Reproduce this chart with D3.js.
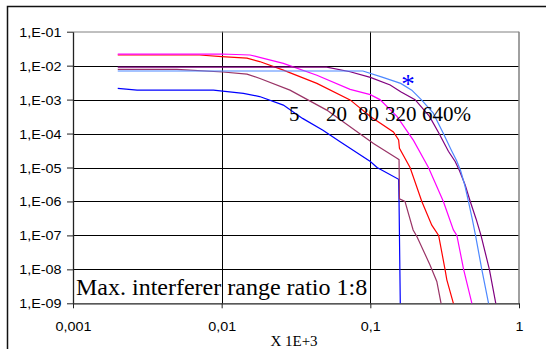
<!DOCTYPE html>
<html>
<head>
<meta charset="utf-8">
<script src="https://cdn.jsdelivr.net/npm/d3@7"></script>
<style>
body{margin:0;background:#fff;}
svg{display:block;}
</style>
</head>
<body>
<svg width="546" height="349"></svg>
<script>
// axis ticks
const yTicks = [1e-9, 1e-8, 1e-7, 1e-6, 1e-5, 1e-4, 1e-3, 1e-2, 1e-1];
const yTickLabels = ['1,E-09','1,E-08','1,E-07','1,E-06','1,E-05','1,E-04','1,E-03','1,E-02','1,E-01'];
const xTicks = [0.001, 0.01, 0.1, 1];
const xTickLabels = ['0,001','0,01','0,1','1'];

// series, [x, y]
const s5 = [[0.002,2.15e-3],[0.0027,1.9e-3],[0.0088,1.9e-3],[0.014,1.53e-3],[0.018,1.23e-3],[0.026,6.9e-4],
  [0.035,2.8e-4],[0.048,1.26e-4],[0.063,5.6e-5],[0.1,1.5e-5],[0.111,1.0e-5],[0.155,4.5e-6],[0.156,1e-6],[0.159,1e-9]];
const s20 = [[0.002,7.8e-3],[0.005,7.8e-3],[0.0102,6.5e-3],[0.0148,5.6e-3],[0.0181,4.2e-3],[0.0288,1.9e-3],
  [0.0509,4.9e-4],[0.105,5.1e-5],[0.151,1.86e-5],[0.156,1.7e-5],[0.157,1.2e-6],[0.171,1.0e-6],[0.194,1.45e-7],
  [0.206,9.1e-8],[0.252,1.35e-8],[0.28,4.4e-9],[0.299,1e-9]];
const s80 = [[0.002,2.06e-2],[0.0071,2.06e-2],[0.01,1.84e-2],[0.0148,1.66e-2],[0.018,1.32e-2],[0.026,7.4e-3],
  [0.0437,3.0e-3],[0.0731,9.8e-4],[0.1,3.2e-4],[0.143,1.12e-4],[0.155,6.5e-5],[0.157,3.7e-5],[0.185,1.0e-5],
  [0.222,1.0e-6],[0.259,2.0e-7],[0.288,1.0e-7],[0.318,1.0e-8],[0.327,4.9e-9],[0.362,1e-9]];
const s320 = [[0.002,2.2e-2],[0.01,2.2e-2],[0.0155,2.06e-2],[0.018,1.76e-2],[0.026,1.17e-2],[0.0437,5.2e-3],
  [0.0731,2.0e-3],[0.1,1.4e-3],[0.116,1.0e-3],[0.151,3.2e-4],[0.195,6.3e-5],[0.246,1.0e-5],[0.31,1.0e-6],
  [0.362,1.45e-7],[0.382,1.0e-7],[0.424,1.0e-8],[0.482,1e-9]];
const s640 = [[0.002,9.1e-3],[0.0509,9.1e-3],[0.0731,6.6e-3],[0.1,4.5e-3],[0.136,2.7e-3],[0.16,1.7e-3],
  [0.2,1.0e-3],[0.25,3.2e-4],[0.29,1.0e-4],[0.335,3.0e-5],[0.372,1.5e-5],[0.398,8.0e-6],[0.435,3.0e-6],
  [0.47,1.0e-6],[0.515,3.0e-7],[0.555,1.0e-7],[0.632,1.0e-8],[0.698,1e-9]];
const sStar = [[0.002,6.95e-3],[0.0891,6.95e-3],[0.12,4.6e-3],[0.16,3.0e-3],[0.19,1.9e-3],[0.22,1.0e-3],
  [0.265,4.0e-4],[0.31,1.0e-4],[0.35,3.3e-5],[0.38,1.6e-5],[0.405,8.0e-6],[0.432,3.0e-6],[0.457,1.0e-6],
  [0.485,3.0e-7],[0.51,1.0e-7],[0.562,1.0e-8],[0.624,1e-9]];

const curveLabels = ['5','20','80','320','640%'];
const seriesColors = ['#0000ff','#993366','#ff0000','#ff00ff','#800080','#4d88ff'];
const allSeries = [s5, s20, s80, s320, s640, sStar];

const svg = d3.select('svg');
svg.append('rect').attr('width',546).attr('height',349).attr('fill','#fff');
// outer chart frame
svg.append('rect').attr('x',7.5).attr('y',6.5).attr('width',600).attr('height',400)
   .attr('fill','none').attr('stroke','#111').attr('stroke-width',1.5);

const x = d3.scaleLog().domain([0.001,1]).range([73,519]);
const y = d3.scaleLog().domain([1e-9,0.1]).range([303.3,31.7]);

// grid
svg.append('g').selectAll('line').data(yTicks.slice(1,8)).enter().append('line')
   .attr('x1',73).attr('x2',519).attr('y1',d=>Math.round(y(d))+0.5).attr('y2',d=>Math.round(y(d))+0.5)
   .attr('stroke','#000').attr('stroke-width',1);
svg.append('g').selectAll('line').data([0.01,0.1]).enter().append('line')
   .attr('y1',31.7).attr('y2',303.3).attr('x1',d=>Math.round(x(d))+0.5).attr('x2',d=>Math.round(x(d))+0.5)
   .attr('stroke','#000').attr('stroke-width',1);
svg.append('line').attr('x1',73).attr('x2',519).attr('y1',32).attr('y2',32).attr('stroke','#808080');
svg.append('line').attr('x1',519).attr('x2',519).attr('y1',31.7).attr('y2',303.3)
   .attr('stroke','#808080').attr('stroke-width',1.5);

// axes
const yAxis = svg.append('g').attr('transform','translate(73,0)')
   .call(d3.axisLeft(y).tickValues(yTicks).tickFormat((d,i)=>yTickLabels[i]).tickSize(6).tickSizeOuter(0));
const xAxis = svg.append('g').attr('transform','translate(0,303.3)')
   .call(d3.axisBottom(x).tickValues(xTicks).tickFormat((d,i)=>xTickLabels[i]).tickSize(5).tickSizeOuter(0));
[yAxis,xAxis].forEach(a=>{
  a.select('.domain').attr('stroke','#222').attr('stroke-width',1.3);
  a.selectAll('.tick line').attr('stroke','#222');
  a.selectAll('text').attr('font-family','Liberation Sans, Arial, sans-serif').attr('font-size',12.5).attr('fill','#000');
});
yAxis.selectAll('text').attr('x',-10).attr('dy','0.36em').attr('transform','scale(1.15,1)');
xAxis.selectAll('text').attr('y',27.4).attr('dy',0).attr('transform','scale(1.15,1)');

// curves
const line = d3.line().x(d=>x(d[0])).y(d=>y(d[1]));
svg.append('g').selectAll('path').data(allSeries).enter().append('path')
   .attr('d',line).attr('fill','none')
   .attr('stroke',(d,i)=>seriesColors[i]).attr('stroke-width',1.2);

// annotations
const labelX = [289, 326, 358, 385, 422];
svg.append('g').selectAll('text').data(curveLabels).enter().append('text')
   .attr('x',(d,i)=>labelX[i]).attr('y',120.7)
   .attr('font-family','Liberation Serif, Times New Roman, serif').attr('font-size',21)
   .text(d=>d);
svg.append('text').attr('x',408).attr('y',93).attr('text-anchor','middle')
   .attr('font-family','Liberation Serif, Times New Roman, serif').attr('font-size',27)
   .attr('fill','#0000ff').text('*');
svg.append('text').attr('x',76).attr('y',294.5)
   .attr('font-family','Liberation Serif, Times New Roman, serif').attr('font-size',24)
   .text('Max. interferer range ratio 1:8');
svg.append('text').attr('x',294).attr('y',346).attr('text-anchor','middle')
   .attr('font-family','Liberation Serif, Times New Roman, serif').attr('font-size',15)
   .text('X 1E+3');
</script>
</body>
</html>
